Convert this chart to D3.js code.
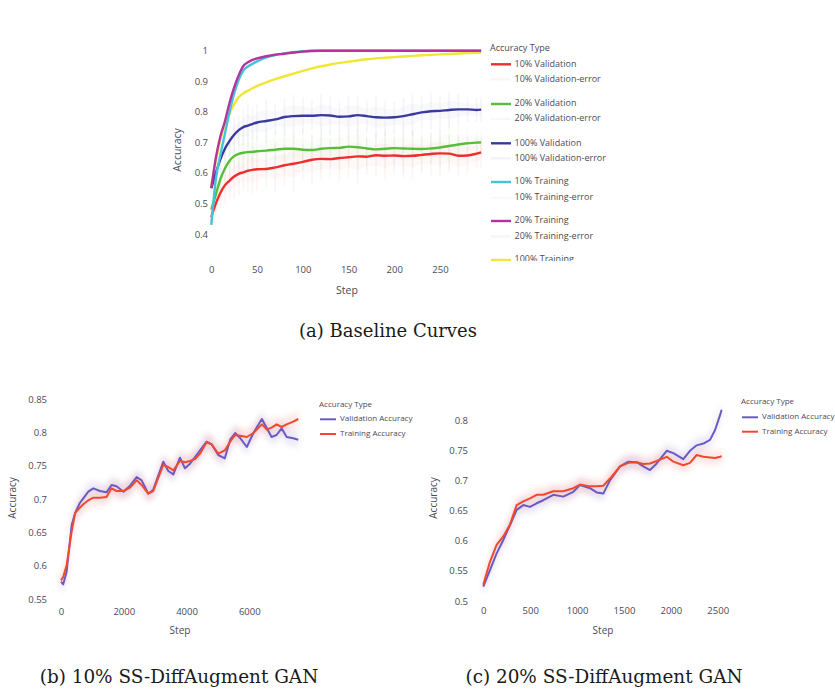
<!DOCTYPE html>
<html>
<head>
<meta charset="utf-8">
<script src="https://cdn.jsdelivr.net/npm/d3@7/dist/d3.min.js"></script>
<style>
  html, body { margin: 0; padding: 0; background: #fff; }
  svg { display: block; }
  .chart text { font-family: "Open Sans", "Noto Sans", sans-serif; fill: #4b4a58; }
  .caption { font-family: "DejaVu Serif", "Liberation Serif", serif; fill: #1a1a1a; }
</style>
</head>
<body>
<svg id="fig" width="835" height="691"></svg>
<script>
// ---------- (a) baseline curves ----------
const baseSteps = [0,5,10,15,20,25,30,35,40,45,50,60,70,80,90,100,110,120,130,140,150,160,170,180,190,200,210,220,230,240,250,260,270,280,290,295];
const val10 = [0.455,0.50,0.535,0.56,0.575,0.588,0.597,0.602,0.607,0.61,0.612,0.613,0.618,0.625,0.63,0.636,0.643,0.646,0.645,0.649,0.651,0.654,0.653,0.658,0.656,0.657,0.655,0.656,0.659,0.662,0.664,0.663,0.656,0.657,0.663,0.667];
const val20 = [0.48,0.53,0.58,0.615,0.64,0.655,0.662,0.666,0.668,0.669,0.671,0.673,0.676,0.679,0.679,0.676,0.675,0.679,0.681,0.682,0.686,0.684,0.68,0.677,0.679,0.681,0.68,0.679,0.678,0.68,0.683,0.688,0.693,0.697,0.699,0.70];
const val100 = [0.55,0.60,0.645,0.68,0.705,0.725,0.74,0.75,0.755,0.76,0.765,0.77,0.775,0.783,0.786,0.787,0.787,0.789,0.788,0.784,0.785,0.789,0.786,0.782,0.781,0.782,0.786,0.792,0.798,0.802,0.803,0.806,0.808,0.808,0.806,0.807];
const train10 = [0.43,0.58,0.66,0.73,0.80,0.86,0.905,0.935,0.948,0.957,0.965,0.978,0.986,0.991,0.995,0.998,1.0,1.0,1.0,1.0,1.0,1.0,1.0,1.0,1.0,1.0,1.0,1.0,1.0,1.0,1.0,1.0,1.0,1.0,1.0,1.0];
const train20 = [0.55,0.65,0.72,0.77,0.83,0.88,0.92,0.95,0.962,0.97,0.975,0.982,0.987,0.99,0.994,0.997,0.999,1.0,1.0,1.0,1.0,1.0,1.0,1.0,1.0,1.0,1.0,1.0,1.0,1.0,1.0,1.0,1.0,1.0,1.0,1.0];
const train100 = [0.56,0.64,0.71,0.76,0.795,0.825,0.848,0.86,0.869,0.877,0.884,0.896,0.907,0.916,0.925,0.934,0.942,0.949,0.955,0.96,0.964,0.968,0.972,0.975,0.977,0.979,0.981,0.983,0.985,0.986,0.988,0.989,0.991,0.992,0.993,0.994];
// error spread (± accuracy) for the validation runs
const val10Err = [0.02,0.04,0.05,0.06,0.06,0.07,0.07,0.06,0.07,0.08,0.07,0.06,0.08,0.07,0.09,0.06,0.08,0.07,0.06,0.08,0.07,0.09,0.06,0.07,0.08,0.06,0.07,0.08,0.06,0.07,0.08,0.06,0.07,0.06,0.05,0.05];
const val20Err = [0.02,0.03,0.05,0.05,0.06,0.05,0.07,0.06,0.06,0.07,0.05,0.07,0.06,0.08,0.06,0.07,0.05,0.08,0.06,0.07,0.06,0.08,0.07,0.05,0.07,0.06,0.08,0.06,0.07,0.05,0.07,0.08,0.06,0.05,0.04,0.04];
const val100Err = [0.02,0.03,0.04,0.05,0.05,0.06,0.05,0.06,0.07,0.05,0.06,0.07,0.05,0.06,0.07,0.06,0.05,0.07,0.06,0.05,0.07,0.06,0.05,0.07,0.06,0.05,0.06,0.07,0.05,0.06,0.05,0.06,0.05,0.04,0.04,0.04];
const baseXTicks = [0,50,100,150,200,250];
const baseYTicks = [0.4,0.5,0.6,0.7,0.8,0.9,1];
const baseLegend = ["10% Validation","10% Validation-error","20% Validation","20% Validation-error","100% Validation","100% Validation-error","10% Training","10% Training-error","20% Training","20% Training-error","100% Training"];

// ---------- (b) 10% SS-DiffAugment GAN ----------
const ganBSteps = [0,70,180,340,450,600,710,870,1030,1240,1450,1610,1770,1990,2200,2410,2570,2780,2940,3260,3420,3580,3790,3950,4110,4270,4430,4640,4800,5010,5220,5390,5550,5700,5920,6130,6400,6560,6710,6870,7030,7190,7400,7560];
const ganBVal = [0.576,0.572,0.591,0.661,0.679,0.694,0.701,0.711,0.716,0.712,0.710,0.721,0.719,0.711,0.720,0.733,0.728,0.708,0.714,0.756,0.742,0.737,0.762,0.746,0.753,0.763,0.773,0.786,0.782,0.766,0.761,0.789,0.799,0.792,0.778,0.799,0.820,0.806,0.793,0.796,0.806,0.793,0.791,0.789];
const ganBTrain = [0.578,0.583,0.601,0.651,0.679,0.687,0.692,0.698,0.702,0.702,0.703,0.716,0.712,0.712,0.717,0.728,0.721,0.708,0.712,0.751,0.748,0.743,0.757,0.755,0.757,0.760,0.768,0.785,0.782,0.768,0.773,0.786,0.796,0.795,0.793,0.799,0.812,0.804,0.807,0.812,0.808,0.812,0.816,0.820];
const ganBXTicks = [0,2000,4000,6000];
const ganBYTicks = [0.55,0.6,0.65,0.7,0.75,0.8,0.85];

// ---------- (c) 20% SS-DiffAugment GAN ----------
const ganCSteps = [0,71,142,213,285,356,427,498,569,640,747,853,960,1031,1138,1209,1280,1351,1458,1547,1636,1707,1778,1849,1956,2027,2133,2204,2276,2347,2418,2471,2525,2542];
const ganCVal = [0.524,0.551,0.579,0.601,0.626,0.651,0.659,0.656,0.662,0.667,0.676,0.673,0.681,0.692,0.687,0.680,0.678,0.700,0.723,0.731,0.730,0.723,0.717,0.728,0.749,0.745,0.735,0.749,0.758,0.761,0.767,0.783,0.808,0.817];
const ganCTrain = [0.527,0.565,0.593,0.607,0.627,0.659,0.665,0.670,0.676,0.676,0.682,0.682,0.687,0.693,0.690,0.690,0.691,0.703,0.723,0.729,0.730,0.727,0.728,0.732,0.739,0.731,0.725,0.729,0.742,0.739,0.738,0.737,0.739,0.740];
const ganCXTicks = [0,500,1000,1500,2000,2500];
const ganCYTicks = [0.5,0.55,0.6,0.65,0.7,0.75,0.8];
const ganLegend = ["Validation Accuracy","Training Accuracy"];

// ---------- styling ----------
const colors = {
  val10: "#ec2f2c", val20: "#59bd3c", val100: "#3a3a9e",
  train10: "#45c3d8", train20: "#b5339e", train100: "#f1e535",
  ganVal: "#6a5bc4", ganTrain: "#f04a2e"
};

const svg = d3.select("#fig");
svg.append("rect").attr("width", 835).attr("height", 691).attr("fill", "#fff");

const defs = svg.append("defs");
defs.append("filter").attr("id", "soft").attr("x", "-10%").attr("y", "-10%").attr("width", "120%").attr("height", "120%")
  .append("feGaussianBlur").attr("stdDeviation", 2.5);
defs.append("clipPath").attr("id", "legendClip")
  .append("rect").attr("x", 480).attr("y", 30).attr("width", 200).attr("height", 231);

const fmt = d => String(+d.toFixed(2));

function drawAxes(g, x, y, opt) {
  const xa = g.append("g")
    .attr("transform", `translate(0,${opt.xLabelY - 0.36 * opt.tickFs})`)
    .call(d3.axisBottom(x).tickValues(opt.xTicks).tickSize(0).tickPadding(0).tickFormat(d3.format("d")));
  xa.select(".domain").remove();
  xa.selectAll("text").attr("font-size", opt.tickFs).attr("fill", "#4b4a58");

  const ya = g.append("g")
    .attr("transform", `translate(${opt.yAxisX},0)`)
    .call(d3.axisLeft(y).tickValues(opt.yTicks).tickSize(0).tickPadding(opt.yPad).tickFormat(fmt));
  ya.select(".domain").remove();
  ya.selectAll("text").attr("font-size", opt.tickFs).attr("fill", "#4b4a58");

  g.append("text").attr("x", opt.stepX).attr("y", opt.stepY)
    .attr("text-anchor", "middle").attr("dominant-baseline", "middle")
    .attr("font-size", opt.titleFs).text("Step");
  g.append("text")
    .attr("transform", `translate(${opt.accX},${opt.accY}) rotate(-90)`)
    .attr("text-anchor", "middle").attr("dominant-baseline", "middle")
    .attr("font-size", opt.titleFs).text("Accuracy");
}

// ===== (a) =====
{
  const g = svg.append("g").attr("class", "chart");
  const x = d3.scaleLinear().domain([0, 250]).range([211.3, 440]);
  const y = d3.scaleLinear().domain([0.4, 1]).range([234, 50.7]);

  drawAxes(g, x, y, {
    xTicks: baseXTicks, yTicks: baseYTicks, xLabelY: 270, yAxisX: 211, yPad: 3,
    tickFs: 9.5, titleFs: 10.5, stepX: 347, stepY: 291, accX: 178, accY: 150
  });

  // faint error streaks of the validation runs
  const errSets = [[val10, val10Err, colors.val10], [val20, val20Err, colors.val20], [val100, val100Err, colors.val100]];
  errSets.forEach(([vals, errs, c]) => {
    g.append("g").selectAll("line").data(baseSteps).join("line")
      .attr("x1", (d) => x(d)).attr("x2", (d) => x(d))
      .attr("y1", (d, i) => y(vals[i] - errs[i])).attr("y2", (d, i) => y(vals[i] + errs[i]))
      .attr("stroke", c).attr("stroke-width", 1.6).attr("stroke-opacity", 0.05);
    g.append("path")
      .attr("d", d3.area().x((d) => x(d)).y0((d, i) => y(vals[i] - errs[i] * 0.5)).y1((d, i) => y(vals[i] + errs[i] * 0.5)).curve(d3.curveMonotoneX)(baseSteps))
      .attr("fill", c).attr("fill-opacity", 0.03);
  });

  const series = [
    [train100, colors.train100], [val10, colors.val10], [val20, colors.val20], [val100, colors.val100],
    [train10, colors.train10], [train20, colors.train20]
  ];
  const line = (vals) => d3.line().x((d) => x(d)).y((d, i) => y(vals[i])).curve(d3.curveMonotoneX)(baseSteps);
  series.forEach(([vals, c]) => {
    g.append("path").attr("d", line(vals)).attr("fill", "none").attr("stroke", c)
      .attr("stroke-width", 2.4).attr("stroke-linejoin", "round");
  });

  // legend
  const lg = g.append("g").attr("clip-path", "url(#legendClip)");
  lg.append("text").attr("x", 490).attr("y", 49).attr("dominant-baseline", "middle")
    .attr("font-size", 9).text("Accuracy Type");
  const legendColors = [colors.val10, colors.val10, colors.val20, colors.val20, colors.val100, colors.val100,
    colors.train10, colors.train10, colors.train20, colors.train20, colors.train100];
  const legendY = [64.3, 79.3, 104, 119, 143.3, 158.3, 182, 198, 221, 236.5, 260];
  baseLegend.forEach((name, i) => {
    const isErr = name.endsWith("-error");
    lg.append("line").attr("x1", 491).attr("x2", 511).attr("y1", legendY[i]).attr("y2", legendY[i])
      .attr("stroke", legendColors[i]).attr("stroke-width", 2.4).attr("stroke-opacity", isErr ? 0.06 : 1);
    lg.append("text").attr("x", 514.5).attr("y", legendY[i]).attr("dominant-baseline", "middle")
      .attr("font-size", 9).text(name);
  });
}

// ===== (b) and (c) =====
function ganChart(steps, valArr, trainArr, opt) {
  const g = svg.append("g").attr("class", "chart");
  const x = d3.scaleLinear().domain(opt.xDomain).range(opt.xRange);
  const y = d3.scaleLinear().domain(opt.yDomain).range(opt.yRange);
  drawAxes(g, x, y, opt);

  const band = (vals, w) => d3.area().x((d) => x(d)).y0((d, i) => y(vals[i] - w)).y1((d, i) => y(vals[i] + w))(steps);
  const line = (vals) => d3.line().x((d) => x(d)).y((d, i) => y(vals[i]))(steps);

  [[valArr, colors.ganVal], [trainArr, colors.ganTrain]].forEach(([vals, c]) => {
    g.append("path").attr("d", band(vals, 0.012)).attr("fill", c).attr("fill-opacity", 0.12).attr("filter", "url(#soft)");
  });
  [[valArr, colors.ganVal], [trainArr, colors.ganTrain]].forEach(([vals, c]) => {
    g.append("path").attr("d", line(vals)).attr("fill", "none").attr("stroke", c)
      .attr("stroke-width", 2).attr("stroke-linejoin", "round");
  });

  g.append("text").attr("x", opt.legX).attr("y", opt.legTitleY).attr("dominant-baseline", "middle")
    .attr("font-size", 8).text("Accuracy Type");
  const lc = [colors.ganVal, colors.ganTrain];
  ganLegend.forEach((name, i) => {
    const ly = opt.legItemY[i];
    g.append("line").attr("x1", opt.legX + 1).attr("x2", opt.legX + 17).attr("y1", ly).attr("y2", ly)
      .attr("stroke", lc[i]).attr("stroke-width", 2);
    g.append("text").attr("x", opt.legX + 21).attr("y", ly).attr("dominant-baseline", "middle")
      .attr("font-size", 8).text(name);
  });
}

ganChart(ganBSteps, ganBVal, ganBTrain, {
  xDomain: [0, 6000], xRange: [61, 249.3], yDomain: [0.55, 0.85], yRange: [599, 399],
  xTicks: ganBXTicks, yTicks: ganBYTicks, xLabelY: 611.5, yAxisX: 50, yPad: 3,
  tickFs: 9.5, titleFs: 10, stepX: 180, stepY: 631.5, accX: 13, accY: 498,
  legX: 319, legTitleY: 405, legItemY: [419.3, 434]
});

ganChart(ganCSteps, ganCVal, ganCTrain, {
  xDomain: [0, 2500], xRange: [483.3, 717.7], yDomain: [0.5, 0.8], yRange: [601, 420],
  xTicks: ganCXTicks, yTicks: ganCYTicks, xLabelY: 611, yAxisX: 471, yPad: 3,
  tickFs: 9.5, titleFs: 10, stepX: 603, stepY: 631.5, accX: 434, accY: 498,
  legX: 741, legTitleY: 402, legItemY: [417.3, 431.7]
});

// ---------- captions ----------
const captions = [
  { text: "(a) Baseline Curves", x: 388, y: 337, size: 18 },
  { text: "(b) 10% SS-DiffAugment GAN", x: 179, y: 683, size: 18.4 },
  { text: "(c) 20% SS-DiffAugment GAN", x: 604, y: 683, size: 18.4 }
];
svg.append("g").selectAll("text").data(captions).join("text")
  .attr("class", "caption")
  .attr("x", (d) => d.x).attr("y", (d) => d.y)
  .attr("text-anchor", "middle").attr("font-size", (d) => d.size)
  .text((d) => d.text);
</script>
</body>
</html>
